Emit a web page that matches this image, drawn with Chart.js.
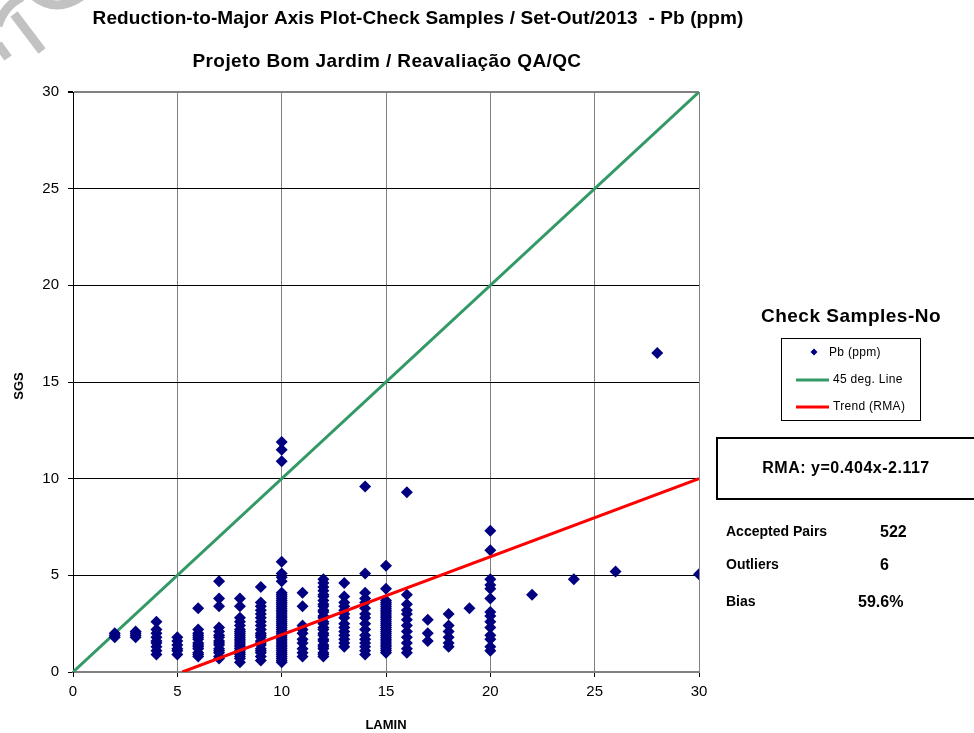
<!DOCTYPE html>
<html>
<head>
<meta charset="utf-8">
<script src="https://cdn.jsdelivr.net/npm/chart.js@4.4.1/dist/chart.umd.min.js"></script>
<style>
  html, body { margin: 0; padding: 0; background: #fff; }
  #wrap { width: 974px; height: 733px; position: relative; }
</style>
</head>
<body>
<div id="wrap"><canvas id="grafico"></canvas></div>
<script>
// LAMIN (x) columns and the SGS (y) results for each column
const lamin = [2, 3, 4, 5, 6, 7, 8, 9, 10, 11, 12, 13, 14, 15, 16, 17, 18, 19, 20, 22, 24, 26, 28, 30];
const sgs = [
  [1.8, 1.9, 2.0],
  [1.8, 1.9, 2.0, 2.1],
  [0.9, 1.1, 1.3, 1.5, 1.6, 1.8, 2.0, 2.2, 2.6],
  [0.9, 1.1, 1.2, 1.4, 1.6, 1.8],
  [0.8, 0.9, 1.0, 1.2, 1.3, 1.4, 1.5, 1.7, 1.8, 1.9, 2.0, 2.2, 3.3],
  [0.7, 0.8, 1.0, 1.1, 1.2, 1.4, 1.5, 1.6, 1.8, 1.9, 2.1, 2.3, 3.4, 3.8, 4.7],
  [0.5, 0.7, 0.8, 0.9, 1.0, 1.1, 1.2, 1.3, 1.4, 1.5, 1.6, 1.7, 1.8, 1.9, 2.0, 2.1, 2.2, 2.4, 2.6, 2.8, 3.4, 3.8],
  [0.6, 0.8, 1.0, 1.1, 1.2, 1.4, 1.5, 1.6, 1.8, 1.9, 2.0, 2.2, 2.4, 2.6, 2.8, 3.0, 3.2, 3.4, 3.6, 4.4],
  [0.5, 0.6, 0.7, 0.8, 0.9, 1.0, 1.1, 1.2, 1.3, 1.4, 1.5, 1.6, 1.7, 1.8, 1.9, 2.0, 2.1, 2.2, 2.3, 2.4, 2.5,
   2.6, 2.7, 2.8, 2.9, 3.0, 3.1, 3.2, 3.3, 3.4, 3.5, 3.6, 3.7, 3.8, 3.9, 4.0, 4.1, 4.7, 4.9, 5.1, 5.7, 10.9, 11.5, 11.9],
  [0.8, 1.0, 1.2, 1.5, 1.7, 2.0, 2.2, 2.4, 3.4, 4.1],
  [0.8, 0.9, 1.0, 1.2, 1.3, 1.4, 1.6, 1.7, 1.9, 2.0, 2.2, 2.3, 2.5, 2.6, 2.8, 2.9, 3.1, 3.2, 3.4, 3.5, 3.7,
   3.9, 4.0, 4.2, 4.4, 4.6, 4.8],
  [1.3, 1.5, 1.7, 1.9, 2.1, 2.3, 2.5, 2.8, 3.0, 3.2, 3.4, 3.6, 3.9, 4.6],
  [0.9, 1.1, 1.3, 1.5, 1.7, 1.9, 2.2, 2.5, 2.8, 3.0, 3.3, 3.6, 3.8, 4.1, 5.1, 9.6],
  [1.0, 1.1, 1.2, 1.3, 1.4, 1.5, 1.6, 1.7, 1.8, 1.9, 2.0, 2.1, 2.2, 2.3, 2.4, 2.5, 2.6, 2.7, 2.8, 2.9, 3.0,
   3.1, 3.2, 3.3, 3.4, 3.5, 3.6, 3.7, 4.3, 5.5],
  [1.0, 1.2, 1.5, 1.8, 2.1, 2.4, 2.7, 3.0, 3.2, 3.5, 4.0, 9.3],
  [1.6, 2.0, 2.7],
  [1.3, 1.5, 1.8, 2.1, 2.4, 3.0],
  [3.3],
  [1.1, 1.3, 1.7, 1.9, 2.3, 2.6, 2.9, 3.1, 3.8, 4.3, 4.5, 4.8, 6.3, 7.3],
  [4.0],
  [4.8],
  [5.2],
  [16.5],
  [5.05]
];

// linha 45 graus e reta RMA
const linha45 = [0, 30];
const rmaSlope = 0.404;
const rmaIntercept = -2.117;
const xMin = 0, xMax = 30;
const yTicks = [0, 5, 10, 15, 20, 25, 30];

// estatisticas do painel lateral
const painel = [
  ['Accepted Pairs', '522', 880],
  ['Outliers', '6', 880],
  ['Bias', '59.6%', 858]
];

let azulEscuro = '#000080';
let verde = '#339966';
let vermelho = '#ff0000';
let fonte = '"Liberation Sans", Arial, sans-serif';

// monta os pontos
let pontos = [];
lamin.forEach((x, i) => {
  sgs[i].forEach(y => pontos.push({ x: x, y: y }));
});

let pontos45 = linha45.map(v => ({ x: v, y: v }));
let xZero = -rmaIntercept / rmaSlope;
let pontosRma = [xZero, xMax].map(x => ({ x: x, y: rmaSlope * x + rmaIntercept }));

// textos fora da area do grafico
const decoracao = {
  id: 'decoracao',
  afterDraw(chart) {
    const ctx = chart.ctx;
    ctx.save();

    // pedaco da marca d'agua no canto
    ctx.save();
    ctx.strokeStyle = '#c2c2c2';
    ctx.lineWidth = 9;
    ctx.beginPath(); ctx.moveTo(-2, 26); ctx.quadraticCurveTo(4, 6, 22, -3); ctx.stroke();
    ctx.beginPath(); ctx.moveTo(14, 14); ctx.lineTo(42, 51); ctx.stroke();
    ctx.beginPath(); ctx.moveTo(34, -4); ctx.quadraticCurveTo(56, 14, 82, -4); ctx.stroke();
    ctx.beginPath(); ctx.moveTo(-2, 44); ctx.lineTo(8, 58); ctx.stroke();
    ctx.restore();

    ctx.fillStyle = '#000';
    ctx.textAlign = 'center';
    ctx.textBaseline = 'middle';
    ctx.letterSpacing = '0.1px';
    ctx.font = 'bold 19px ' + fonte;
    ctx.fillText('Reduction-to-Major Axis Plot-Check Samples / Set-Out/2013  - Pb (ppm)', 418, 19);
    ctx.letterSpacing = '0.4px';
    ctx.font = 'bold 19px ' + fonte;
    ctx.fillText('Projeto Bom Jardim / Reavaliação QA/QC', 387, 62);
    ctx.letterSpacing = '0px';

    // titulos dos eixos
    ctx.font = 'bold 13px ' + fonte;
    ctx.fillText('LAMIN', 386, 725);
    ctx.save();
    ctx.translate(19, 386);
    ctx.rotate(-Math.PI / 2);
    ctx.fillText('SGS', 0, 0);
    ctx.restore();

    // legenda
    ctx.letterSpacing = '0.5px';
    ctx.font = 'bold 19px ' + fonte;
    ctx.fillText('Check Samples-No', 851, 317);
    ctx.strokeStyle = '#000';
    ctx.lineWidth = 1;
    ctx.strokeRect(781.5, 338.5, 139, 82);
    ctx.textAlign = 'left';
    ctx.letterSpacing = '0.3px';
    ctx.font = '12px ' + fonte;
    ctx.fillStyle = azulEscuro;
    ctx.beginPath();
    ctx.moveTo(814, 348.5); ctx.lineTo(817.5, 352); ctx.lineTo(814, 355.5); ctx.lineTo(810.5, 352);
    ctx.closePath();
    ctx.fill();
    ctx.fillStyle = '#000';
    ctx.fillText('Pb (ppm)', 829, 353);
    ctx.lineWidth = 3;
    ctx.strokeStyle = verde;
    ctx.beginPath(); ctx.moveTo(796, 380); ctx.lineTo(829, 380); ctx.stroke();
    ctx.fillText('45 deg. Line', 833, 380);
    ctx.strokeStyle = vermelho;
    ctx.beginPath(); ctx.moveTo(796, 407); ctx.lineTo(829, 407); ctx.stroke();
    ctx.fillText('Trend (RMA)', 833, 407);

    // caixa da equacao
    ctx.lineWidth = 2;
    ctx.strokeStyle = '#000';
    ctx.strokeRect(717, 438, 270, 61);
    ctx.textAlign = 'center';
    ctx.letterSpacing = '0.5px';
    ctx.font = 'bold 16px ' + fonte;
    ctx.fillText('RMA: y=' + rmaSlope.toFixed(3) + 'x' + rmaIntercept.toFixed(3), 846, 469);

    // estatisticas
    ctx.textAlign = 'left';
    ctx.letterSpacing = '0px';
    painel.forEach((p, i) => {
      let y = [532, 565, 602][i];
      ctx.font = 'bold 14px ' + fonte;
      ctx.fillText(p[0], 726, y);
      ctx.font = 'bold 16px ' + fonte;
      ctx.fillText(p[1], p[2], y + 1);
    });
    ctx.restore();
  }
};

const c_grafico = document.getElementById('grafico').getContext('2d');
let grafico = new Chart(c_grafico, {
  type: 'scatter',
  data: {
    datasets: [{
      label: 'Trend (RMA)',
      type: 'line',
      data: pontosRma,
      borderColor: vermelho,
      borderWidth: 3,
      pointRadius: 0,
      fill: false
    }, {
      label: 'Pb (ppm)',
      data: pontos,
      pointStyle: 'rectRot',
      pointRadius: 6,
      backgroundColor: azulEscuro,
      borderColor: azulEscuro,
      borderWidth: 0
    }, {
      label: '45 deg. Line',
      type: 'line',
      data: pontos45,
      borderColor: verde,
      borderWidth: 3,
      pointRadius: 0,
      fill: false
    }]
  },
  options: {
    responsive: true,
    maintainAspectRatio: false,
    animation: false,
    layout: { padding: { left: 0, top: 92, right: 275, bottom: 0 } },
    scales: {
      x: {
        type: 'linear',
        min: xMin,
        max: xMax,
        afterFit: s => { s.height = 61; },
        ticks: { stepSize: 5, color: '#000', padding: 6, font: { family: fonte, size: 15 } },
        grid: { color: '#808080', lineWidth: 1, tickLength: 5, tickColor: '#000' },
        border: { color: '#808080', width: 2 }
      },
      y: {
        type: 'linear',
        min: yTicks[0],
        max: yTicks[yTicks.length - 1],
        afterFit: s => { s.width = 73; },
        ticks: { stepSize: 5, color: '#000', padding: 9, font: { family: fonte, size: 15 } },
        grid: {
          color: ctx => ctx.tick.value === 30 ? '#808080' : '#000',
          lineWidth: ctx => ctx.tick.value === 30 ? 2 : 1,
          tickLength: 5,
          tickColor: '#000'
        },
        border: { color: '#000', width: 1 }
      }
    },
    plugins: {
      legend: { display: false },
      tooltip: { enabled: false }
    }
  },
  plugins: [decoracao]
});
</script>
</body>
</html>
